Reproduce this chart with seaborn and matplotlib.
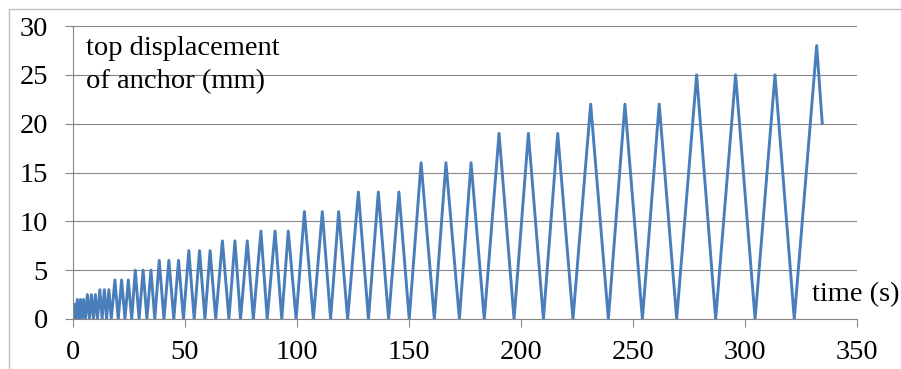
import numpy as np
import pandas as pd
import matplotlib
matplotlib.use("Agg")
import matplotlib.pyplot as plt
from matplotlib.lines import Line2D
import seaborn as sns

# ============================
# DATA
# ============================

# time of each turning point (s)
time_s = [
    0.0, 0.6, 1.2,
    1.9, 2.6, 3.3, 4.0, 4.7, 5.5,
    6.4, 7.3, 8.2, 9.1, 10.0, 10.9,
    12.0, 13.0, 14.0, 15.0, 16.0, 17.1,
    18.7, 20.2, 21.7, 23.2, 24.7, 26.2,
    27.8, 29.5, 31.3, 33.0, 34.8, 36.5,
    38.5, 40.6, 42.8, 45.0, 47.1, 49.3,
    51.7, 54.1, 56.5, 58.9, 61.2, 63.7,
    66.7, 69.6, 72.3, 74.8, 77.8, 80.5,
    83.9, 86.7, 90.2, 93.2, 96.1, 99.6,
    103.3, 107.3, 111.3, 115.0, 118.6, 122.6,
    127.4, 131.9, 136.3, 140.9, 145.5, 150.1,
    155.4, 161.3, 166.5, 172.5, 177.7, 183.6,
    190.2, 196.9, 203.3, 210.0, 216.4, 223.2,
    231.1, 239.0, 246.4, 254.2, 261.7, 269.5,
    278.4, 286.9, 295.8, 304.5, 313.4, 322.0,
    332.0, 334.5,
]

# top displacement of anchor at each turning point (mm)
disp_mm = [
    0, 1.5, 0,
    2, 0, 2, 0, 2, 0,
    2.5, 0, 2.5, 0, 2.5, 0,
    3, 0, 3, 0, 3, 0,
    4, 0, 4, 0, 4, 0,
    5, 0, 5, 0, 5, 0,
    6, 0, 6, 0, 6, 0,
    7, 0, 7, 0, 7, 0,
    8, 0, 8, 0, 8, 0,
    9, 0, 9, 0, 9, 0,
    11, 0, 11, 0, 11, 0,
    13, 0, 13, 0, 13, 0,
    16, 0, 16, 0, 16, 0,
    19, 0, 19, 0, 19, 0,
    22, 0, 22, 0, 22, 0,
    25, 0, 25, 0, 25, 0,
    28, 20,
]

x_ticks = [0, 50, 100, 150, 200, 250, 300, 350]
y_ticks = [0, 5, 10, 15, 20, 25, 30]

df = pd.DataFrame({"time": time_s, "disp": disp_mm})

# ============================
# PLOT
# ============================

sns.set_style("white")
plt.rcParams["font.family"] = ["Liberation Serif", "DejaVu Serif"]
plt.rcParams["text.color"] = "black"

fig = plt.figure(figsize=(9.01, 3.69), dpi=100)
ax = fig.add_axes([73 / 901, 50 / 369, 784 / 901, 293 / 369])

sns.lineplot(data=df, x="time", y="disp", ax=ax, color="#4A7EBB",
             linewidth=2.1, sort=False, estimator=None)

ax.set_xlim(0, 350)
ax.set_ylim(0, 30)
ax.set_xticks(x_ticks)
ax.set_yticks(y_ticks)
ax.set_xlabel("")
ax.set_ylabel("")

grid_col = "#878787"
ax.yaxis.grid(True, color=grid_col, linewidth=0.8)
ax.xaxis.grid(False)
ax.set_axisbelow(True)
for side in ["top", "right"]:
    ax.spines[side].set_visible(False)
for side in ["left", "bottom"]:
    ax.spines[side].set_color(grid_col)
    ax.spines[side].set_linewidth(0.8)

ax.tick_params(axis="both", which="major", labelsize=20.5, colors=grid_col,
               labelcolor="black", length=6, width=0.8, direction="out")
ax.tick_params(axis="y", pad=12, left=True)
ax.tick_params(axis="x", pad=9, bottom=True)

ax.text(0.0166, 0.901, "top displacement", transform=ax.transAxes,
        fontsize=20.5, va="baseline", ha="left", color="black")
ax.text(0.0166, 0.788, "of anchor (mm)", transform=ax.transAxes,
        fontsize=20.5, va="baseline", ha="left", color="black")
ax.text(0.9426, 0.061, "time (s)", transform=ax.transAxes,
        fontsize=20.5, va="baseline", ha="left", clip_on=False, color="black")

# chart-area border like the spreadsheet frame
border = "#BFBFBF"
fig.add_artist(Line2D([8.5 / 901, 8.5 / 901], [0, 1 - 9 / 369],
                      transform=fig.transFigure, color=border, linewidth=1))
fig.add_artist(Line2D([8.5 / 901, 1], [1 - 9 / 369, 1 - 9 / 369],
                      transform=fig.transFigure, color=border, linewidth=1))

fig.savefig("out.png", dpi=100)
